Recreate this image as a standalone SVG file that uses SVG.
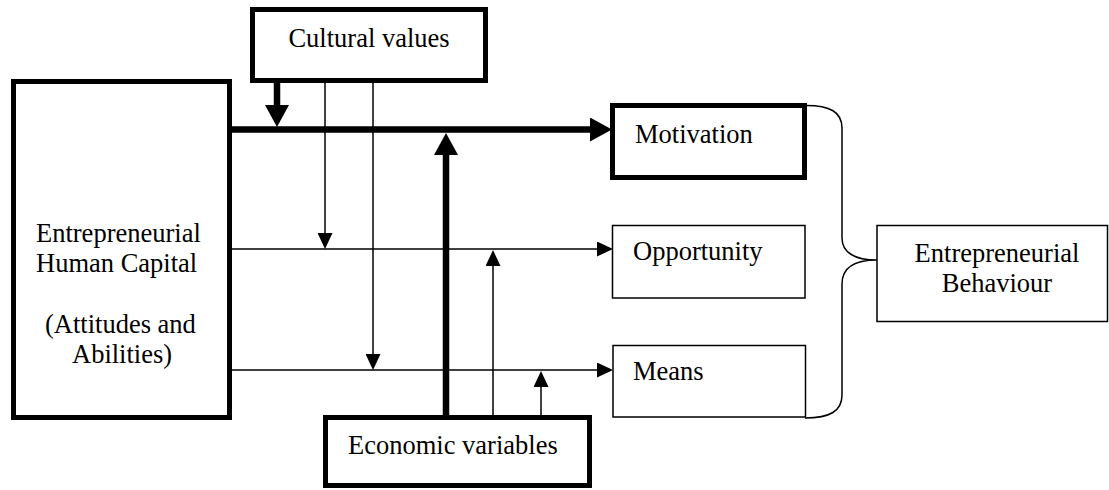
<svg xmlns="http://www.w3.org/2000/svg" width="1109" height="490" viewBox="0 0 1109 490">
  <style>
    .box { fill: #ffffff; stroke: #000000; }
    .heavy { stroke-width: 5; }
    .light { stroke-width: 1.5; }
    .label { font-family: "Liberation Serif", "Times New Roman", serif; font-size: 26.5px; fill: #000000; }
    .thick { stroke: #000000; stroke-width: 6.5; fill: none; }
    .thin { stroke: #000000; stroke-width: 1.5; fill: none; }
  </style>
  <defs>
    <marker id="headBig" markerUnits="userSpaceOnUse" viewBox="0 0 22 24" refX="1" refY="12" markerWidth="22" markerHeight="24" orient="auto">
      <path d="M0,0 L22,12 L0,24 Z" fill="#000000"/>
    </marker>
    <marker id="headSmall" markerUnits="userSpaceOnUse" viewBox="0 0 16 15" refX="1" refY="7.5" markerWidth="16" markerHeight="15" orient="auto">
      <path d="M0,0 L16,7.5 L0,15 Z" fill="#000000"/>
    </marker>
  </defs>

  <rect width="1109" height="490" fill="#ffffff"/>

  <g id="connectors">
    <!-- heavy links -->
    <line class="thick" x1="232" y1="129.5" x2="591" y2="129.5" marker-end="url(#headBig)"/>
    <line class="thick" x1="277" y1="83" x2="277" y2="106" marker-end="url(#headBig)"/>
    <line class="thick" x1="446" y1="415" x2="446" y2="154" marker-end="url(#headBig)"/>
    <!-- light links from human capital -->
    <line class="thin" x1="232" y1="249" x2="598" y2="249" marker-end="url(#headSmall)"/>
    <line class="thin" x1="232" y1="370" x2="598" y2="370" marker-end="url(#headSmall)"/>
    <!-- light links from cultural values -->
    <line class="thin" x1="325" y1="83" x2="325" y2="234" marker-end="url(#headSmall)"/>
    <line class="thin" x1="373" y1="83" x2="373" y2="355" marker-end="url(#headSmall)"/>
    <!-- light links from economic variables -->
    <line class="thin" x1="493" y1="415" x2="493" y2="265" marker-end="url(#headSmall)"/>
    <line class="thin" x1="541" y1="415" x2="541" y2="386" marker-end="url(#headSmall)"/>
    <!-- brace gathering the three outcomes -->
    <path class="thin" d="M806,105.5 C830,105.5 842,112 842,128 L842,238 C842,252 854,260 877,260 C854,260 842,268 842,284 L842,395 C842,411 830,418 805,418"/>
  </g>

  <g id="cultural-values">
    <rect class="box heavy" x="252.5" y="9.5" width="233" height="71"/>
    <text class="label" x="369" y="47" text-anchor="middle">Cultural values</text>
  </g>

  <g id="human-capital">
    <rect class="box heavy" x="13.5" y="81.5" width="216" height="336"/>
    <text class="label" x="36" y="242">Entrepreneurial</text>
    <text class="label" x="36" y="272">Human Capital</text>
    <text class="label" x="45" y="333">(Attitudes and</text>
    <text class="label" x="72" y="363">Abilities)</text>
  </g>

  <g id="motivation">
    <rect class="box heavy" x="612.5" y="105.5" width="192" height="72"/>
    <text class="label" x="635" y="143">Motivation</text>
  </g>

  <g id="opportunity">
    <rect class="box light" x="612.5" y="225.5" width="192.5" height="72.5"/>
    <text class="label" x="633" y="260">Opportunity</text>
  </g>

  <g id="means">
    <rect class="box light" x="613" y="345.5" width="192.5" height="71.5"/>
    <text class="label" x="633" y="380">Means</text>
  </g>

  <g id="economic-variables">
    <rect class="box heavy" x="325.5" y="417.5" width="264" height="68"/>
    <text class="label" x="348" y="454">Economic variables</text>
  </g>

  <g id="behaviour">
    <rect class="box light" x="877" y="225.5" width="230.5" height="96"/>
    <text class="label" x="997" y="262" text-anchor="middle">Entrepreneurial</text>
    <text class="label" x="997" y="292" text-anchor="middle">Behaviour</text>
  </g>
</svg>
